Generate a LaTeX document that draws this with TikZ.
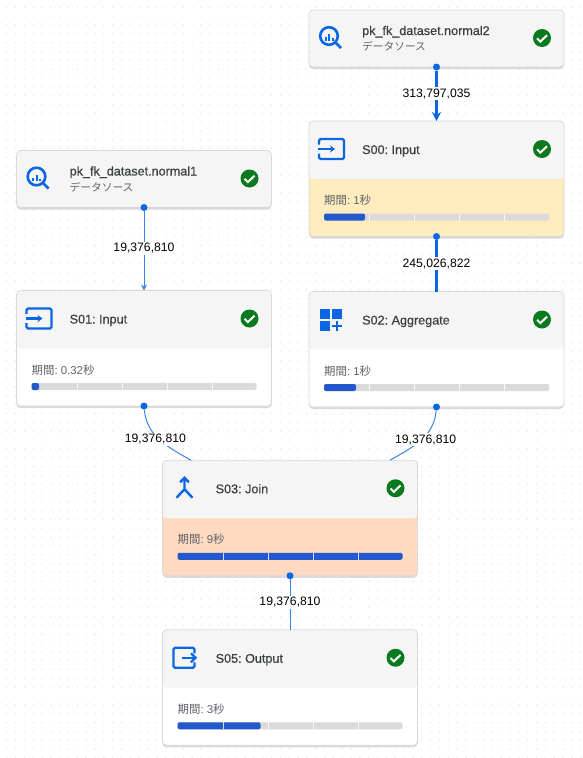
\documentclass[tikz,border=0pt]{standalone}
\usepackage{fontspec}
\setmainfont{Liberation Sans}
\newfontfamily\jpfont{Noto Sans CJK JP}
\newfontfamily\titlefont[FakeBold=0.6]{Liberation Sans}
\usetikzlibrary{arrows.meta,positioning,shadows}

\definecolor{HeadGray}{HTML}{F5F5F5}
\definecolor{EdgeGray}{HTML}{D9D9D9}
\definecolor{GridGray}{HTML}{E6E6E6}
\definecolor{BarGray}{HTML}{DADADA}
\definecolor{BarBlue}{HTML}{2458CC}
\definecolor{FlowBlue}{HTML}{0B66E4}
\definecolor{ThinBlue}{HTML}{3A86E8}
\definecolor{DoneGreen}{HTML}{0B7A1E}
\definecolor{WarnYellow}{HTML}{FEEBBE}
\definecolor{HotOrange}{HTML}{FFD9C0}
\definecolor{TitleText}{HTML}{3C4043}
\definecolor{SubText}{HTML}{5F6368}

\tikzset{
	donemark/.pic={
		\fill[DoneGreen] (0,0) circle (9);
		\draw[white, line width=2pt] (-5,-0.3) -- (-1.6,-3.6) -- (5,2.8);
	},
	sourceicon/.pic={
		\draw[FlowBlue, line width=2.6pt] (-2,2) circle (8.8);
		\draw[FlowBlue, line width=2.8pt] (4.4,-4.4) -- (10,-10);
		\foreach \bx/\bh in {-5.5/3.5, -2/6.5, 1.5/2.5}
			\draw[FlowBlue, line width=2pt] (\bx,-2.5) -- (\bx,-2.5+\bh);
	},
	inputicon/.pic={
		\draw[FlowBlue, line width=2.2pt, rounded corners=1.5] (-12,4.5) -- (-12,10) -- (13,10) -- (13,-10) -- (-12,-10) -- (-12,-4.5);
		\draw[FlowBlue, line width=2.2pt, -{Stealth[length=5pt,width=7pt]}] (-13,0) -- (4,0);
	},
	outputicon/.pic={
		\draw[FlowBlue, line width=2.4pt, rounded corners=1.5] (10,4.5) -- (10,10) -- (-11,10) -- (-11,-10) -- (10,-10) -- (10,-4.5);
		\draw[FlowBlue, line width=2.2pt] (-3,0) -- (11,0);
		\draw[FlowBlue, line width=2.2pt] (6.5,4.5) -- (11,0) -- (6.5,-4.5);
	},
	joinicon/.pic={
		\draw[FlowBlue, line width=2.4pt] (0,10) -- (0,-1) (-8,-9.5) -- (0,-1) -- (8,-9.5);
		\draw[FlowBlue, line width=2.4pt] (-4.3,6) -- (0,10.5) -- (4.3,6);
	},
	groupicon/.pic={
		\fill[FlowBlue] (-11,0.5) rectangle (-1,10.5);
		\fill[FlowBlue] (1,0.5) rectangle (11,10.5);
		\fill[FlowBlue] (-11,-11.5) rectangle (-1,-1.5);
		\draw[FlowBlue, line width=2.6pt] (1,-6.3) -- (11,-6.3) (6,-1.3) -- (6,-11.3);
	}
}

% icon and check mark of one card
\newcommand{\cardmarks}[2]{
	\pic at ([shift={(22,-28)}]#1.north west) {#2};
	\pic at ([shift={(-22,-28)}]#1.north east) {donemark};
}
\newcommand{\durationbar}[3]{
	\node[durtext] (#1dur) at ([shift={(15,32)}]#1.south west) {{\jpfont 期間}: #2{\jpfont 秒}};
	\fill[BarGray, rounded corners=2] ([shift={(15,16)}]#1.south west) rectangle ([shift={(240,23)}]#1.south west);
	\fill[BarBlue, rounded corners=2] ([shift={(15,16)}]#1.south west) rectangle ([shift={(15+#3,23)}]#1.south west);
	\foreach \sx in {60,105,150,195}
		\fill[white, opacity=.8] ([shift={(\sx,16)}]#1.south west) rectangle ([shift={(\sx+1.3,23)}]#1.south west);
}

\begin{document}
\frenchspacing
\begin{tikzpicture}[
		x=1pt, y=1pt,
		node distance=54pt,
		card/.style={rectangle, draw=EdgeGray, line width=0.7pt, rounded corners=4pt, outer sep=0pt, minimum width=255pt,
			drop shadow={shadow xshift=0pt, shadow yshift=-2pt, opacity=.15, fill=black}},
		sourcecard/.style={card, fill=HeadGray, minimum height=57pt},
		stagecard/.style={card, minimum height=115.5pt, fill=#1,
			path picture={\fill[HeadGray] (path picture bounding box.north west) rectangle ([yshift=-58pt]path picture bounding box.north east);}},
		stagecard/.default=white,
		nametext/.style={anchor=base west, inner sep=0pt, font=\fontsize{12.6}{14}\titlefont, text=TitleText},
		subtext/.style={anchor=base west, inner sep=0pt, font=\fontsize{10.7}{13}\jpfont, text=SubText},
		durtext/.style={anchor=base west, inner sep=0pt, font=\fontsize{11.4}{13}\selectfont, text=SubText},
		qty/.style={fill=white, inner sep=1.5pt, font=\fontsize{12.2}{14}\selectfont, text=black},
		portdot/.style={circle, fill=FlowBlue, inner sep=0pt, minimum size=7pt},
		flowthick/.style={FlowBlue, line width=3.2pt},
		flowthin/.style={ThinBlue, line width=1pt}
	]
	\useasboundingbox (0,0) rectangle (582,-758);

	% dotted canvas
	\foreach \dx in {0,...,65}
		\foreach \dy in {0,...,85}
			\fill[GridGray] (6.7+8.83*\dx,-7.3-8.83*\dy) circle (0.8);

	\node[sourcecard] (Table2) at (436.5,-38.5) {};
	\node[stagecard=WarnYellow, below=of Table2] (S00) {};
	\node[stagecard, below=55pt of S00] (S02) {};
	\node[sourcecard] (Table1) at (144,-179) {};
	\node[stagecard, below=83pt of Table1] (S01) {};
	\node[stagecard=HotOrange] (S03) at (290,-518) {};
	\node[stagecard, below=of S03] (S05) {};

	\cardmarks{Table2}{sourceicon}
	\cardmarks{Table1}{sourceicon}
	\cardmarks{S00}{inputicon}
	\cardmarks{S01}{inputicon}
	\cardmarks{S02}{groupicon}
	\cardmarks{S03}{joinicon}
	\cardmarks{S05}{outputicon}

	\node[nametext] (Table2name) at ([shift={(53,-25)}]Table2.north west) {pk\_fk\_dataset.normal2};
	\node[subtext] (Table2kind) at ([shift={(53,-40.5)}]Table2.north west) {データソース};
	\node[nametext] (Table1name) at ([shift={(53,-25)}]Table1.north west) {pk\_fk\_dataset.normal1};
	\node[subtext] (Table1kind) at ([shift={(53,-40.5)}]Table1.north west) {データソース};
	\node[nametext] (S00name) at ([shift={(53,-33)}]S00.north west) {S00: Input};
	\node[nametext] (S01name) at ([shift={(53,-33)}]S01.north west) {S01: Input};
	\node[nametext] (S02name) at ([shift={(53,-33)}]S02.north west) {S02: Aggregate};
	\node[nametext] (S03name) at ([shift={(53,-33)}]S03.north west) {S03: Join};
	\node[nametext] (S05name) at ([shift={(53,-33)}]S05.north west) {S05: Output};

	\durationbar{S00}{1}{41}
	\durationbar{S01}{0.32}{7.5}
	\durationbar{S02}{1}{32}
	\durationbar{S03}{9}{225}
	\durationbar{S05}{3}{83}

	\node[portdot] (Table2out) at (Table2.south) {};
	\node[portdot] (S00out) at (S00.south) {};
	\node[portdot] (Table1out) at (Table1.south) {};
	\node[portdot] (S01out) at (S01.south) {};
	\node[portdot] (S02out) at (S02.south) {};
	\node[portdot] (S03out) at (S03.south) {};
	\coordinate (S03left) at ([xshift=-99]S03.north);
	\coordinate (S03right) at ([xshift=100]S03.north);

	\draw[flowthick, -{Stealth[length=9pt,width=9pt]}] (Table2out) -- node[qty, pos=.46] (Qty2) {313,797,035} (S00.north);
	\draw[flowthick] (S00out) -- node[qty, pos=.46] (Qty0) {245,026,822} (S02.north);
	\draw[flowthin, -{Stealth[length=6pt,width=6pt]}] (Table1out) -- node[qty, pos=.47] (Qty1) {19,376,810} (S01.north);
	\draw[flowthin] (S01out) to[out=-85, in=150] node[qty, pos=.42, xshift=-0.5pt, yshift=-3pt] (QtyL) {19,376,810} (S03left);
	\draw[flowthin] (S02out) to[out=-95, in=30] node[qty, pos=.42, xshift=1pt, yshift=-3pt] (QtyR) {19,376,810} (S03right);
	\draw[flowthin] (S03out) -- node[qty, pos=.45] (Qty3) {19,376,810} (S05.north);
\end{tikzpicture}
\end{document}
